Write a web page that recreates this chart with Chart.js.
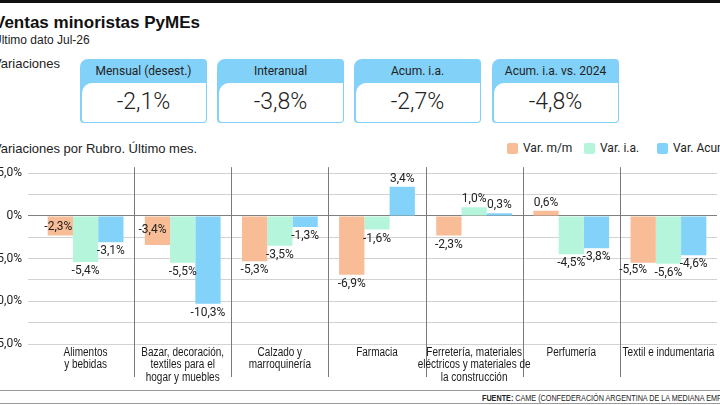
<!DOCTYPE html>
<html lang="es">
<head>
<meta charset="utf-8">
<script src="https://cdn.jsdelivr.net/npm/chart.js@4.4.1/dist/chart.umd.min.js"></script>
<style>
html, body { margin: 0; padding: 0; background: #fff; }
body { width: 720px; height: 405px; overflow: hidden; position: relative; font-family: Roboto, 'Liberation Sans', sans-serif; color: #222; }
.abs { position: absolute; white-space: nowrap; line-height: 1; }
#topbar { left: 0; top: 0; width: 720px; height: 3px; background: #111; }
#title { left: -6px; top: 14px; font-size: 17px; font-weight: bold; font-family: 'Liberation Sans', Arial, sans-serif; color: #111; }
#subtitle { left: -7px; top: 34px; font-size: 12px; font-family: 'Liberation Sans', Arial, sans-serif; }
#varTitle { left: -7px; top: 57px; font-size: 13px; font-family: 'Liberation Sans', Arial, sans-serif; }
#rubroTitle { left: -7px; top: 142px; font-size: 13px; font-family: 'Liberation Sans', Arial, sans-serif; }
.card { position: absolute; top: 59px; width: 127px; height: 64px; background: #82d1f8; border-radius: 8px 4px 4px 4px; }
.card .h { height: 24px; line-height: 24px; text-align: center; font-size: 12px; color: #222; }
.card .b { position: absolute; left: 1.5px; right: 1.5px; top: 24px; bottom: 1.5px; background: #fff; border-radius: 10px 0 3px 3px;
           text-align: center; line-height: 38px; font-size: 23px; font-weight: 300; color: #222; }
.leg { position: absolute; top: 142px; height: 12px; font-size: 12px; line-height: 12px; white-space: nowrap; }
.leg i { position: absolute; left: 0; top: 1px; width: 11px; height: 11px; border-radius: 2px; }
.leg span { position: absolute; left: 16px; top: 0; }
#chartBox { position: absolute; left: -10px; top: 154px; width: 730px; height: 236px; }
#rule1 { left: 0; top: 390px; width: 720px; height: 1px; background: #9a9a9a; }
#rule2 { left: 0; top: 403px; width: 720px; height: 1px; background: #9a9a9a; }
#source { left: 482px; top: 393px; font-size: 9.5px; font-family: 'Liberation Sans', Arial, sans-serif; color: #222;
          transform: scaleX(0.76); transform-origin: 0 0; }
</style>
</head>
<body>
<div class="abs" id="topbar"></div>
<div class="abs" id="title">Ventas minoristas PyMEs</div>
<div class="abs" id="subtitle">Último dato Jul-26</div>
<div class="abs" id="varTitle">Variaciones</div>
<div id="cards"></div>
<div class="abs" id="rubroTitle">Variaciones por Rubro. Último mes.</div>
<div id="legend"></div>
<div id="chartBox"><canvas id="rubroChart"></canvas></div>
<div class="abs" id="rule1"></div>
<div class="abs" id="rule2"></div>
<div class="abs" id="source"><b>FUENTE:</b> CAME (CONFEDERACIÓN ARGENTINA DE LA MEDIANA EMPRESA)</div>

<script>
// summary boxes
const cardTitles = ['Mensual (desest.)', 'Interanual', 'Acum. i.a.', 'Acum. i.a. vs. 2024'];
const cardValues = [-2.1, -3.8, -2.7, -4.8];

// chart data
const rubros = [
    ['Alimentos', 'y bebidas'],
    ['Bazar, decoración,', 'textiles para el', 'hogar y muebles'],
    ['Calzado y', 'marroquinería'],
    ['Farmacia'],
    ['Ferretería, materiales', 'eléctricos y materiales de', 'la construcción'],
    ['Perfumería'],
    ['Textil e indumentaria']
];
const seriesNames = ['Var. m/m', 'Var. i.a.', 'Var. Acum. i.a.'];
const varMensual = [-2.3, -3.4, -5.3, -6.9, -2.3, 0.6, -5.5];
const varInteranual = [-5.4, -5.5, -3.5, -1.6, 1.0, -4.5, -5.6];
const varAcumulada = [-3.1, -10.3, -1.3, 3.4, 0.3, -3.8, -4.6];
const yTicks = [5, 0, -5, -10, -15];

const colors = ['#f8bc96', '#b5f5dc', '#82d2fa'];

function fmtPct(v) {
    if (v === 0) return '0%';
    return v.toFixed(1).replace('.', ',') + '%';
}

// cards
const cardLefts = [80, 217, 354, 492];
document.getElementById('cards').innerHTML = cardTitles.map((t, i) =>
    '<div class="card" style="left:' + cardLefts[i] + 'px"><div class="h">' + t + '</div><div class="b">' + fmtPct(cardValues[i]) + '</div></div>'
).join('');

// legend
const legLefts = [507, 584, 657];
document.getElementById('legend').innerHTML = seriesNames.map((n, i) =>
    '<div class="leg" style="left:' + legLefts[i] + 'px"><i style="background:' + colors[i] + '"></i><span>' + n + '</span></div>'
).join('');

// small hand nudges for a couple of labels that sit inside their bars
const labelNudge = { '0,0': [-2, -18], '0,1': [-5, -24], '0,6': [-10, -2] };

const barLabels = {
    id: 'barLabels',
    afterDatasetsDraw(chart) {
        const ctx = chart.ctx;
        ctx.save();
        ctx.font = '12px Roboto, "Liberation Sans", sans-serif';
        ctx.fillStyle = '#222';
        ctx.textAlign = 'center';
        ctx.textBaseline = 'middle';
        chart.data.datasets.forEach((ds, d) => {
            chart.getDatasetMeta(d).data.forEach((bar, i) => {
                const v = ds.data[i];
                const n = labelNudge[d + ',' + i] || [0, 0];
                const y = v < 0 ? bar.y + 9 : bar.y - 8;
                ctx.fillText(fmtPct(v), bar.x + n[0], y + n[1]);
            });
        });
        ctx.restore();
    }
};

// separators between categories + narrow category labels under the plot
const rubroAxis = {
    id: 'rubroAxis',
    beforeDatasetsDraw(chart) {
        const x = chart.scales.x, area = chart.chartArea, ctx = chart.ctx;
        ctx.save();
        ctx.strokeStyle = '#7a7a7a';
        ctx.lineWidth = 1;
        for (let i = 1; i < rubros.length; i++) {
            const px = Math.round((x.getPixelForValue(i - 1) + x.getPixelForValue(i)) / 2) + 0.5;
            ctx.beginPath();
            ctx.moveTo(px, area.top);
            ctx.lineTo(px, area.bottom + 33);
            ctx.stroke();
        }
        ctx.restore();
    },
    afterDraw(chart) {
        const x = chart.scales.x, area = chart.chartArea, ctx = chart.ctx;
        ctx.save();
        ctx.font = '12.5px "Liberation Sans", Arial, sans-serif';
        ctx.fillStyle = '#1a1a1a';
        ctx.textAlign = 'center';
        ctx.textBaseline = 'top';
        rubros.forEach((lines, i) => {
            const cx = x.getPixelForValue(i);
            lines.forEach((line, j) => {
                ctx.save();
                ctx.translate(cx, area.bottom + 2 + j * 12.6);
                ctx.scale(0.8, 1);
                ctx.fillText(line, 0, 0);
                ctx.restore();
            });
        });
        ctx.restore();
    }
};

new Chart(document.getElementById('rubroChart').getContext('2d'), {
    type: 'bar',
    data: {
        labels: rubros.map(r => r.join(' ')),
        datasets: [
            { label: seriesNames[0], data: varMensual, backgroundColor: colors[0] },
            { label: seriesNames[1], data: varInteranual, backgroundColor: colors[1] },
            { label: seriesNames[2], data: varAcumulada, backgroundColor: colors[2] }
        ]
    },
    options: {
        responsive: true,
        maintainAspectRatio: false,
        animation: false,
        datasets: { bar: { categoryPercentage: 0.78, barPercentage: 1.0, borderWidth: 0 } },
        layout: { padding: { top: 11, right: 3, bottom: 0, left: 0 } },
        plugins: {
            legend: { display: false },
            tooltip: { enabled: false }
        },
        scales: {
            x: {
                grid: { display: false },
                border: { display: false },
                ticks: { display: false },
                afterFit: s => { s.height = 46; s.paddingLeft = 0; s.paddingRight = 0; }
            },
            y: {
                min: -15,
                max: 5.7,
                border: { display: false },
                grid: {
                    color: c => (c.tick && c.tick.value === 0) ? '#808080' : '#d2d2d2',
                    lineWidth: 1,
                    tickLength: 9
                },
                ticks: {
                    padding: 6,
                    color: '#222',
                    font: { family: 'Roboto, "Liberation Sans", sans-serif', size: 12 },
                    callback: v => yTicks.includes(v) ? fmtPct(v) : ''
                },
                afterBuildTicks: s => {
                    const t = [];
                    for (let v = -15; v <= 5; v += 2.5) t.push({ value: v });
                    s.ticks = t;
                },
                afterFit: s => { s.width = 47; }
            }
        }
    },
    plugins: [rubroAxis, barLabels]
});
</script>
</body>
</html>
